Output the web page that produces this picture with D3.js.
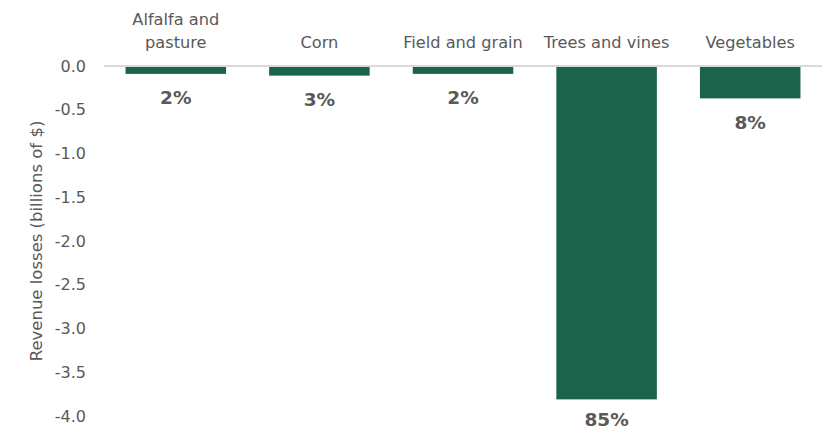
<!DOCTYPE html>
<html><head><meta charset="utf-8">
<script src="https://cdn.jsdelivr.net/npm/d3@7"></script>
<style>body{margin:0;background:#fff}</style>
</head><body><svg id="c" width="836" height="432"></svg>
<script>
const categories = ["Alfalfa and\npasture", "Corn", "Field and grain", "Trees and vines", "Vegetables"];
const values = [-0.09, -0.11, -0.09, -3.81, -0.37];
const shares = ["2%", "3%", "2%", "85%", "8%"];
const yTicks = [0, -0.5, -1.0, -1.5, -2.0, -2.5, -3.0, -3.5, -4.0];

const svg = d3.select("#c");
const font = "'DejaVu Sans', Verdana, sans-serif";
const textColor = "#595959";
const x = d3.scaleBand().domain(categories).range([104, 822]).paddingInner(0.3).paddingOuter(0.15);
const y = d3.scaleLinear().domain([-4, 0]).range([416, 66]);

// y axis labels
svg.append("g").selectAll("text").data(yTicks).join("text")
  .attr("x", 86).attr("y", d => y(d)).attr("dy", "0.35em")
  .attr("text-anchor", "end").attr("font-family", font).attr("font-size", 16)
  .attr("fill", textColor).text(d => d.toFixed(1));

// bars
svg.append("g").selectAll("rect").data(values).join("rect")
  .attr("x", (d, i) => x(categories[i])).attr("width", x.bandwidth())
  .attr("y", y(0)).attr("height", d => y(d) - y(0))
  .attr("fill", "#1b634a");

// zero line
svg.append("line").attr("x1", 104).attr("x2", 822).attr("y1", y(0)).attr("y2", y(0))
  .attr("stroke", "#d9d9d9").attr("stroke-width", 2);

// share labels
svg.append("g").selectAll("text").data(values).join("text")
  .attr("x", (d, i) => x(categories[i]) + x.bandwidth() / 2)
  .attr("y", d => Math.min(y(d) + 24, 420)).attr("dy", "0.35em")
  .attr("text-anchor", "middle").attr("font-family", font).attr("font-size", 18.5)
  .attr("font-weight", "bold").attr("fill", textColor).text((d, i) => shares[i]);

// category labels
const cl = svg.append("g").selectAll("text").data(categories).join("text")
  .attr("text-anchor", "middle").attr("font-family", font).attr("font-size", 16.2)
  .attr("fill", textColor);
cl.each(function(d) {
  const lines = d.split("\n");
  const cx = x(d) + x.bandwidth() / 2;
  d3.select(this).selectAll("tspan").data(lines).join("tspan")
    .attr("x", cx).attr("y", (l, i) => 42 - (lines.length - 1 - i) * 23).attr("dy", "0.35em").text(l => l);
});

// y title
svg.append("text").attr("transform", "translate(36," + y(-2) + ") rotate(-90)")
  .attr("text-anchor", "middle").attr("dy", "0.35em").attr("font-family", font).attr("font-size", 16.5)
  .attr("fill", textColor).text("Revenue losses (billions of $)");
</script></body></html>
